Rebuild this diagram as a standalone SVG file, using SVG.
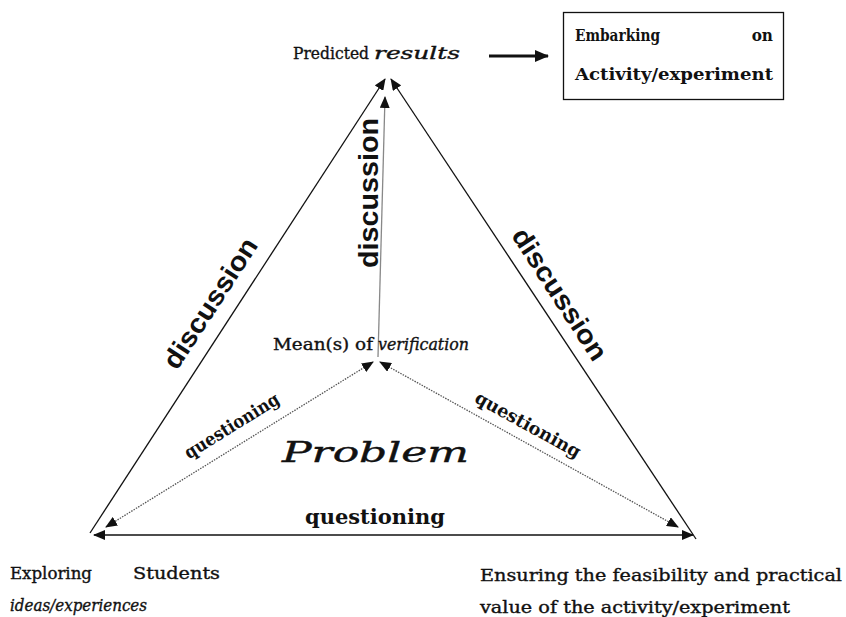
<svg xmlns="http://www.w3.org/2000/svg" width="846" height="617" viewBox="0 0 846 617">
<style>
.m{font-family:"DejaVu Serif Condensed","DejaVu Serif","Liberation Serif",serif;fill:#111;stroke:#111;stroke-width:0.35}
.b{font-weight:bold;stroke-width:0}
.i{font-style:italic}
.d{font-family:"Liberation Sans",Arial,sans-serif;font-weight:bold;font-size:27px;fill:#111}
.edge{stroke:#111;stroke-width:1.3;fill:none}
.dot{stroke:#555;stroke-width:1.3;stroke-dasharray:1.5 1.2;fill:none}
</style>
<defs>
<marker id="ah" viewBox="0 0 12 10" refX="11" refY="5" markerWidth="12" markerHeight="10" markerUnits="userSpaceOnUse" orient="auto-start-reverse">
<path d="M0,0 L12,5 L0,10 z" fill="#111"/>
</marker>
<marker id="ahb" viewBox="0 0 14 12" refX="13" refY="6" markerWidth="14" markerHeight="12" markerUnits="userSpaceOnUse" orient="auto">
<path d="M0,0 L14,6 L0,12 z" fill="#111"/>
</marker>
</defs>
<rect width="846" height="617" fill="#fff"/>
<g id="connectors">
<line class="edge" x1="90" y1="533" x2="385" y2="79" marker-end="url(#ah)"/>
<line class="edge" x1="696" y1="539" x2="391" y2="79" marker-end="url(#ah)"/>
<line x1="378" y1="357" x2="385" y2="97" stroke="#888" stroke-width="1.3" marker-end="url(#ah)"/>
<line class="dot" x1="106" y1="527" x2="373" y2="362" marker-start="url(#ah)" marker-end="url(#ah)"/>
<line class="dot" x1="678" y1="527" x2="380" y2="362" marker-start="url(#ah)" marker-end="url(#ah)"/>
<line class="edge" stroke-width="1.6" x1="94" y1="535" x2="693" y2="535" marker-start="url(#ah)" marker-end="url(#ah)"/>
<line stroke="#111" stroke-width="3" x1="489" y1="56" x2="548" y2="56" marker-end="url(#ahb)"/>
</g>
<g id="labels">
<text class="d" transform="translate(210,303) rotate(-57)" y="9.5" text-anchor="middle" textLength="150" lengthAdjust="spacingAndGlyphs">discussion</text>
<text class="d" transform="translate(368,193) rotate(-90)" y="9.5" text-anchor="middle" textLength="150" lengthAdjust="spacingAndGlyphs">discussion</text>
<text class="d" transform="translate(560,294) rotate(57)" y="9.5" text-anchor="middle" textLength="152" lengthAdjust="spacingAndGlyphs">discussion</text>
<text class="m b" transform="translate(235,431) rotate(-31.8)" text-anchor="middle" font-size="18" textLength="108" lengthAdjust="spacingAndGlyphs">questioning</text>
<text class="m b" transform="translate(525,430) rotate(29)" text-anchor="middle" font-size="18" textLength="118" lengthAdjust="spacingAndGlyphs">questioning</text>
<text class="m b" x="375" y="524" text-anchor="middle" font-size="20" textLength="140" lengthAdjust="spacingAndGlyphs">questioning</text>
</g>
<g id="problem">
<text class="m i" transform="translate(282,462) scale(1.45,1)" font-size="27" stroke-width="0.6" textLength="129" lengthAdjust="spacingAndGlyphs">Problem</text>
</g>
<g id="mean">
<text class="m" x="273" y="350" font-size="17" textLength="100" lengthAdjust="spacingAndGlyphs">Mean(s) of</text>
<text class="m i" x="378" y="350" font-size="17" textLength="91" lengthAdjust="spacingAndGlyphs">verification</text>
</g>
<g id="predicted">
<text class="m" x="293" y="59" font-size="17" textLength="76" lengthAdjust="spacingAndGlyphs">Predicted</text>
<text class="m i" x="374" y="59" font-size="17" textLength="86" lengthAdjust="spacingAndGlyphs">results</text>
</g>
<g id="embarking">
<rect x="563.5" y="12.5" width="220" height="87" fill="#fff" stroke="#111" stroke-width="1.3"/>
<text class="m b" x="575" y="41" font-size="17" textLength="85" lengthAdjust="spacingAndGlyphs">Embarking</text>
<text class="m b" x="773" y="41" font-size="17" text-anchor="end">on</text>
<text class="m b" x="575" y="80" font-size="17" textLength="198" lengthAdjust="spacingAndGlyphs">Activity/experiment</text>
</g>
<g id="exploring">
<text class="m" x="10" y="579" font-size="17" textLength="82" lengthAdjust="spacingAndGlyphs">Exploring</text>
<text class="m" x="133" y="579" font-size="17" textLength="87" lengthAdjust="spacingAndGlyphs">Students</text>
<text class="m i" x="10" y="611" font-size="17" textLength="137" lengthAdjust="spacingAndGlyphs">ideas/experiences</text>
</g>
<g id="ensuring">
<text class="m" x="480" y="581" font-size="17" textLength="362" lengthAdjust="spacingAndGlyphs">Ensuring the feasibility and practical</text>
<text class="m" x="480" y="613" font-size="17" textLength="310" lengthAdjust="spacingAndGlyphs">value of the activity/experiment</text>
</g>
</svg>
